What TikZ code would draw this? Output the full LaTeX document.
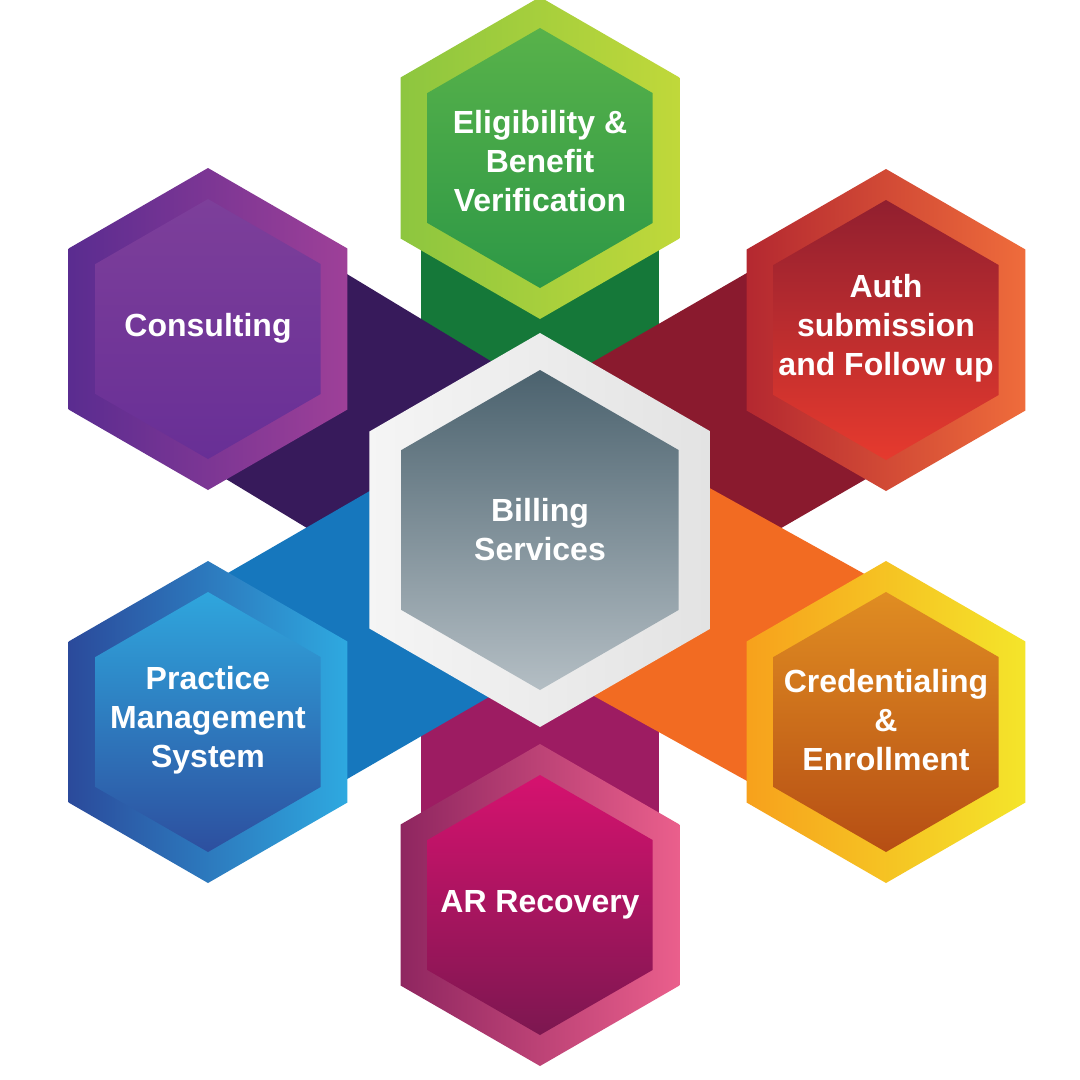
\documentclass[tikz,border=0pt]{standalone}
\usepackage{fontspec}
\setmainfont{Liberation Sans}
\usetikzlibrary{shapes.geometric}
\pgfdeclarelayer{bg}
\pgfsetlayers{bg,main}
\definecolor{bGreen}{HTML}{157839}
\definecolor{bPurple}{HTML}{371A5B}
\definecolor{bRed}{HTML}{8A1A2E}
\definecolor{bOrange}{HTML}{F26B22}
\definecolor{bBlue}{HTML}{1677BD}
\definecolor{bMagenta}{HTML}{9D1C62}
\tikzset{
  hexring/.style={regular polygon, regular polygon sides=6, shape border rotate=30,
    minimum size=322pt, inner sep=0pt, outer sep=0pt},
  hexcore/.style={regular polygon, regular polygon sides=6, shape border rotate=30,
    minimum size=260pt, inner sep=0pt, outer sep=0pt},
  hextext/.style={text=white, font=\bfseries\fontsize{32}{39}\selectfont, align=center, inner sep=0pt},
  band/.style={line width=238pt, line cap=butt}
}
\begin{document}
\begin{tikzpicture}[x=1pt,y=-1pt]
\useasboundingbox (0,0) rectangle (1080,1080);

% centre hexagon
\node[hexring, minimum size=394pt, left color=white!96!black, right color=white!89!black] (c) at (540,530) {};
\node[hexcore, minimum size=320pt, top color={rgb,255:red,75;green,98;blue,110}, bottom color={rgb,255:red,180;green,190;blue,196}] (cin) at (540,530) {};
\node[hextext] (ct) at (540,530) {Billing\\Services};

% top
\node[hexring, left color={rgb,255:red,141;green,198;blue,63}, right color={rgb,255:red,192;green,216;blue,58}] (top) at (540,158) {};
\node[hexcore, top color={rgb,255:red,88;green,178;blue,74}, bottom color={rgb,255:red,45;green,152;blue,70}] (topin) at (540,158) {};
\node[hextext] (topt) at (540,161) {Eligibility \&\\Benefit\\Verification};

% upper left
\node[hexring, left color={rgb,255:red,90;green,44;blue,144}, right color={rgb,255:red,158;green,64;blue,152}] (ul) at (208,329) {};
\node[hexcore, top color={rgb,255:red,125;green,63;blue,154}, bottom color={rgb,255:red,104;green,47;blue,150}] (ulin) at (208,329) {};
\node[hextext] (ult) at (208,328) {Consulting};

% upper right
\node[hexring, left color={rgb,255:red,180;green,40;blue,48}, right color={rgb,255:red,239;green,108;blue,59}] (ur) at (886,330) {};
\node[hexcore, top color={rgb,255:red,145;green,31;blue,47}, bottom color={rgb,255:red,230;green,58;blue,46}] (urin) at (886,330) {};
\node[hextext] (urt) at (886,328) {Auth\\submission\\and Follow up};

% lower left
\node[hexring, left color={rgb,255:red,43;green,74;blue,155}, right color={rgb,255:red,46;green,169;blue,224}] (ll) at (208,722) {};
\node[hexcore, top color={rgb,255:red,47;green,166;blue,221}, bottom color={rgb,255:red,45;green,79;blue,159}] (llin) at (208,722) {};
\node[hextext] (llt) at (208,720) {Practice\\Management\\System};

% lower right
\node[hexring, left color={rgb,255:red,247;green,161;blue,28}, right color={rgb,255:red,244;green,229;blue,42}] (lr) at (886,722) {};
\node[hexcore, top color={rgb,255:red,224;green,141;blue,34}, bottom color={rgb,255:red,182;green,78;blue,20}] (lrin) at (886,722) {};
\node[hextext] (lrt) at (886,720) {Credentialing\\\&\\Enrollment};

% bottom
\node[hexring, left color={rgb,255:red,143;green,38;blue,96}, right color={rgb,255:red,234;green,95;blue,140}] (bt) at (540,905) {};
\node[hexcore, top color={rgb,255:red,214;green,18;blue,111}, bottom color={rgb,255:red,124;green,23;blue,80}] (btin) at (540,905) {};
\node[hextext] (btt) at (540,905) {AR Recovery};

\begin{pgfonlayer}{bg}
  \fill[white] (0,0) rectangle (1080,1080);
  \draw[band, bGreen]   (c.center) -- (top.center);
  \draw[band, bMagenta] (c.center) -- (bt.center);
  \draw[band, bPurple]  (c.center) -- (ul.center);
  \draw[band, bRed]     (c.center) -- (ur.center);
  \draw[band, bBlue]    (c.center) -- (ll.center);
  \draw[band, bOrange]  (c.center) -- (lr.center);
\end{pgfonlayer}
\end{tikzpicture}
\end{document}
